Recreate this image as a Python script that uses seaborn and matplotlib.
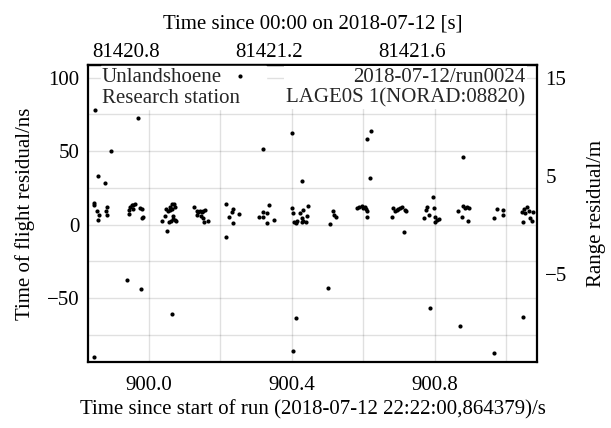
import matplotlib
matplotlib.use("Agg")
import matplotlib.pyplot as plt
import numpy as np
import pandas as pd
import seaborn as sns
from matplotlib.lines import Line2D
from matplotlib.ticker import MultipleLocator, StrMethodFormatter

# ---- data (time since run start [s], residual [ns]) ----
t_cluster = [
    899.847, 899.847, 899.855, 899.858, 899.861, 899.883, 899.880, 899.883,
    899.945, 899.947, 899.952, 899.956, 899.961, 899.956, 899.944, 899.975, 899.981, 899.982, 899.980,
    900.037, 900.045, 900.048, 900.052, 900.059, 900.064, 900.059, 900.064, 900.071, 900.073,
    900.057, 900.061, 900.068, 900.073, 900.075, 900.050, 900.066,
    900.126, 900.134, 900.138, 900.143, 900.148, 900.152, 900.157, 900.135, 900.145, 900.152, 900.154, 900.164,
    900.215, 900.234, 900.232, 900.225, 900.236, 900.253, 900.215,
    900.308, 900.318, 900.320, 900.330, 900.336, 900.331, 900.350,
    900.401, 900.404, 900.407, 900.412, 900.415, 900.423, 900.428, 900.428, 900.432, 900.432, 900.440, 900.442, 900.445,
    900.507, 900.514, 900.517, 900.525,
    900.583, 900.589, 900.596, 900.600, 900.605, 900.608, 900.610, 900.611,
    900.683, 900.689, 900.694, 900.698, 900.703, 900.708, 900.717, 900.720, 900.681, 900.714,
    900.771, 900.776, 900.778, 900.784, 900.795, 900.798, 900.802, 900.802, 900.806, 900.811,
    900.865, 900.880, 900.885, 900.890, 900.897, 900.878, 900.893,
    900.967, 900.974, 900.991, 900.992,
    901.044, 901.047, 901.050, 901.053, 901.058, 901.065, 901.067, 901.075, 901.072,
]
ns_cluster = [
    14.5, 13.3, 9.4, 2.9, 6.3, 12.1, 9.4, 6.5,
    9.9, 12.1, 13.3, 13.3, 13.8, 10.6, 7.4, 11.5, 10.6, 5.3, 4.2,
    2.4, 5.8, 10.4, 9.4, 9.9, 10.4, 12.1, 13.8, 14.0, 12.1,
    1.9, 2.4, 3.5, 3.1, 2.6, -4.6, 5.8,
    12.1, 9.4, 8.7, 9.4, 8.7, 9.4, 9.9, 6.5, 5.8, 4.2, 1.9, 2.6,
    14.2, 10.8, 8.3, 4.9, 1.2, 7.0, -8.3,
    5.3, 8.7, 4.9, 7.6, 13.5, 0.8, 3.1,
    11.0, 7.6, 1.9, 1.2, 2.4, 7.6, 1.9, 4.2, 9.9, 2.4, 1.9, 5.8, 12.6,
    0.3, 9.4, 6.5, 5.3,
    11.5, 12.1, 12.6, 11.5, 12.1, 10.4, 9.4, 5.3,
    11.5, 9.4, 9.9, 10.4, 11.0, 12.1, 9.9, 9.2, 5.3, -5.3,
    4.2, 9.9, 12.1, 6.5, 18.5, 11.0, 5.3, 1.9, 3.1, 3.5,
    9.2, 12.6, 11.0, 11.7, 11.5, 5.3, 2.4,
    4.2, 10.4, 9.9, 6.5,
    8.7, 1.9, 10.4, 7.6, 11.7, 9.2, 4.2, 8.3, 2.4,
]
t_outlier = [
    899.849, 899.857, 899.877, 899.894, 899.969, 900.319, 900.400, 900.429,
    900.622, 900.611, 900.619, 900.880,
    899.938, 899.977, 900.064, 899.847, 900.412, 900.502, 900.404,
    900.787, 900.871, 900.967, 901.048,
]
ns_outlier = [
    78.0, 33.1, 28.5, 50.1, 72.3, 51.1, 62.4, 29.7,
    63.7, 58.3, 31.7, 46.1,
    -37.8, -43.5, -60.5, -90.1, -63.3, -42.8, -86.0,
    -56.7, -69.2, -87.4, -62.8,
]

run_start_sod = 80520.864379          # 22:22:00.864379 as seconds of day
ns_to_m = 0.15                        # two-way: 1 ns -> 0.15 m

bottom_ticks = [900.0, 900.4, 900.8]
top_ticks = [81420.8, 81421.2, 81421.6]
left_ticks = [-50, 0, 50, 100]
right_ticks = [-5, 5, 15]

legend_labels = ["Unlandshoene", "Research station"]
run_info = "2018-07-12/run0024\nLAGE0S 1(NORAD:08820)"

# ---- style ----
sns.set_theme(style="white")
plt.rcParams["font.family"] = ["Liberation Serif", "DejaVu Serif"]
plt.rcParams["axes.unicode_minus"] = True
FS = 15

fig = plt.figure(figsize=(6.11, 4.28), dpi=100)
ax = fig.add_axes([0.144, 0.154, 0.735, 0.694])

df = pd.DataFrame({"t": t_cluster + t_outlier, "ns": ns_cluster + ns_outlier})
sns.scatterplot(data=df, x="t", y="ns", ax=ax, color="black", s=9,
                linewidth=0, legend=False, zorder=3)

ax.set_xlim(899.829, 901.087)
ax.set_ylim(-93.5, 108.5)
ax.set_xticks(bottom_ticks)
ax.xaxis.set_minor_locator(MultipleLocator(0.2))
ax.xaxis.set_major_formatter(StrMethodFormatter("{x:.1f}"))
ax.set_yticks(left_ticks)
ax.yaxis.set_minor_locator(MultipleLocator(25))
ax.set_axisbelow(True)
ax.grid(which="both", color="black", alpha=0.12, linewidth=1.0)
ax.tick_params(which="both", length=0, labelsize=FS, colors="black")
ax.tick_params(axis="x", pad=10)
ax.tick_params(axis="y", pad=6)
ax.set_xlabel("Time since start of run (2018-07-12 22:22:00,864379)/s",
              fontsize=FS, color="black", labelpad=4)
ax.set_ylabel("Time of flight residual/ns", fontsize=FS, color="black", labelpad=9)
for sp in ax.spines.values():
    sp.set_visible(True)
    sp.set_color("black")
    sp.set_linewidth(1.6)

# right axis: range residual
ax2 = ax.twinx()
y0, y1 = ax.get_ylim()
ax2.set_ylim(y0 * ns_to_m, y1 * ns_to_m)
ax2.set_yticks(right_ticks)
ax2.grid(False)
ax2.tick_params(length=0, labelsize=FS, pad=6, colors="black")
ax2.set_ylabel("Range residual/m", fontsize=FS, color="black", labelpad=14)
for sp in ax2.spines.values():
    sp.set_visible(False)

# top axis: seconds of day
sec = ax.secondary_xaxis("top", functions=(lambda x: x + run_start_sod,
                                           lambda x: x - run_start_sod))
sec.set_xticks(top_ticks)
sec.xaxis.set_major_formatter(StrMethodFormatter("{x:.1f}"))
sec.tick_params(length=0, labelsize=FS, pad=2, colors="black")
sec.set_xlabel("Time since 00:00 on 2018-07-12 [s]", fontsize=FS, color="black", labelpad=11)
sec.spines["top"].set_linewidth(1.6)
sec.spines["top"].set_color("black")

# legend (station) upper left
h_dot = ax.collections[0]
h_none = Line2D([], [], linestyle="none")
leg = ax.legend([h_dot, h_none], legend_labels, loc="upper left",
                bbox_to_anchor=(0.028, 0.997), markerfirst=False,
                scatterpoints=1, frameon=True, fancybox=False, framealpha=1,
                facecolor="white", edgecolor="white", fontsize=FS,
                borderpad=0.05, borderaxespad=0.0, handlelength=0.6,
                handletextpad=0.6, labelspacing=0.1)
for col in leg._legend_handle_box.get_children():
    col.align = "left"
leg.set_zorder(2.5)

# run info upper right
ax.text(0.973, 0.99, run_info, transform=ax.transAxes, ha="right", va="top",
        multialignment="right", fontsize=FS, linespacing=1.05, zorder=5,
        bbox=dict(facecolor="white", edgecolor="none", pad=1.5))

fig.savefig("out.png", dpi=100)
